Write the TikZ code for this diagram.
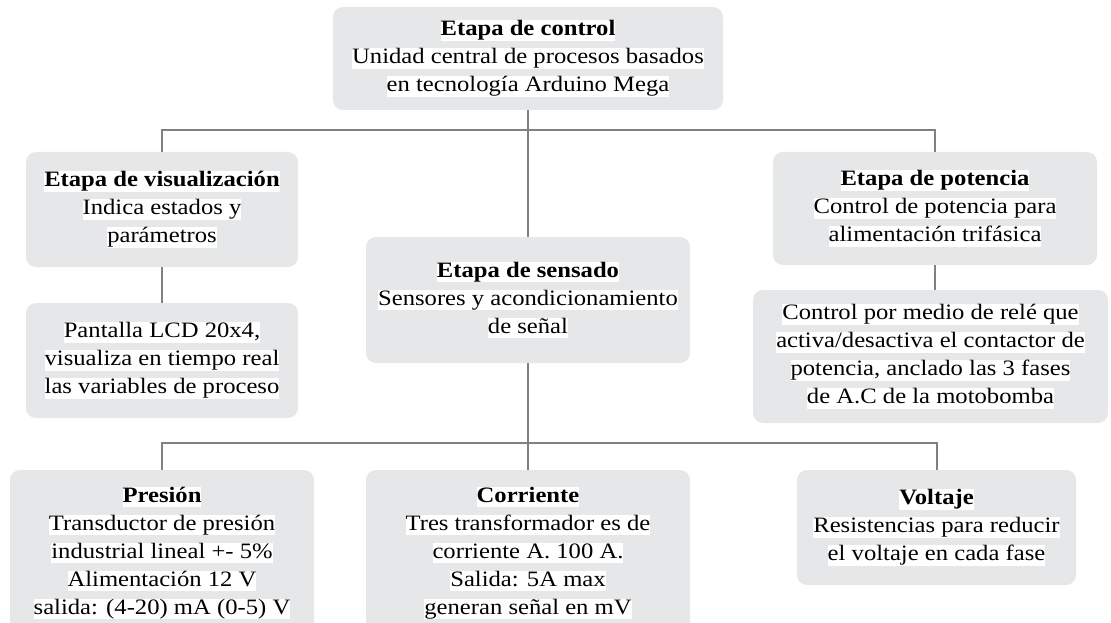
\documentclass[tikz,border=0pt]{standalone}
\usepackage{fontspec}
\setmainfont{Liberation Serif}[FakeStretch=1.12]
\definecolor{boxgray}{HTML}{E6E7E8}
\definecolor{linegray}{HTML}{808080}
\newcommand{\hlline}[1]{{\setlength{\fboxsep}{0pt}\colorbox{white}{\rule[-5pt]{0pt}{20pt}#1}}}
\begin{document}
\begin{tikzpicture}[x=1pt,y=-1pt,
  box/.style={fill=boxgray, rounded corners=10pt, inner sep=0pt, align=center,
    font=\fontsize{22}{28}\selectfont},
  conn/.style={draw=linegray, line width=2pt}]
\useasboundingbox (0,0) rectangle (1111,623);
\clip (0,0) rectangle (1111,623);
\node[box, minimum width=390pt, minimum height=103pt] (ctrl) at (528,58.5)
  {\hlline{\textbf{Etapa de control}}\\ \hlline{Unidad central de procesos basados}\\ \hlline{en tecnología Arduino Mega}};
\node[box, minimum width=272pt, minimum height=115pt] (viz) at (162,209.5)
  {\hlline{\textbf{Etapa de visualización}}\\ \hlline{Indica estados y}\\ \hlline{parámetros}};
\node[box, minimum width=272pt, minimum height=115pt] (lcd) at (162,360.5)
  {\hlline{Pantalla LCD 20x4,}\\ \hlline{visualiza en tiempo real}\\ \hlline{las variables de proceso}};
\node[box, minimum width=324pt, minimum height=113pt] (pot) at (935,208.5)
  {\hlline{\textbf{Etapa de potencia}}\\ \hlline{Control de potencia para}\\ \hlline{alimentación trifásica}};
\node[box, minimum width=355pt, minimum height=133pt] (rele) at (930.5,356.5)
  {\hlline{Control por medio de relé que}\\ \hlline{activa/desactiva el contactor de}\\ \hlline{potencia, anclado las 3 fases}\\ \hlline{de A.C de la motobomba}};
\node[box, minimum width=324pt, minimum height=126pt] (sens) at (528,300)
  {\hlline{\textbf{Etapa de sensado}}\\ \hlline{Sensores y acondicionamiento}\\ \hlline{de señal}};
\node[box, minimum width=304pt, minimum height=166pt] (pres) at (162,553)
  {\hlline{\textbf{Presión}}\\ \hlline{Transductor de presión}\\ \hlline{industrial lineal +- 5\%}\\ \hlline{Alimentación 12 V}\\ \hlline{salida: (4-20) mA (0-5) V}};
\node[box, minimum width=324pt, minimum height=166pt] (corr) at (528,553)
  {\hlline{\textbf{Corriente}}\\ \hlline{Tres transformador es de}\\ \hlline{corriente A. 100 A.}\\ \hlline{Salida: 5A max}\\ \hlline{generan señal en mV}};
\node[box, minimum width=279pt, minimum height=115pt] (volt) at (936.5,527.5)
  {\hlline{\textbf{Voltaje}}\\ \hlline{Resistencias para reducir}\\ \hlline{el voltaje en cada fase}};
\coordinate (tb) at (528,130);
\coordinate (bb) at (528,443);
\draw[conn] (ctrl.south) -- (sens.north);
\draw[conn] (viz.north) -- (viz.north |- tb) -- (pot.north |- tb) -- (pot.north);
\draw[conn] (viz.south) -- (lcd.north);
\draw[conn] (pot.south) -- (pot.south |- rele.north);
\draw[conn] (sens.south) -- (corr.north);
\draw[conn] (pres.north) -- (pres.north |- bb) -- (volt.north |- bb) -- (volt.north);
\end{tikzpicture}
\end{document}
